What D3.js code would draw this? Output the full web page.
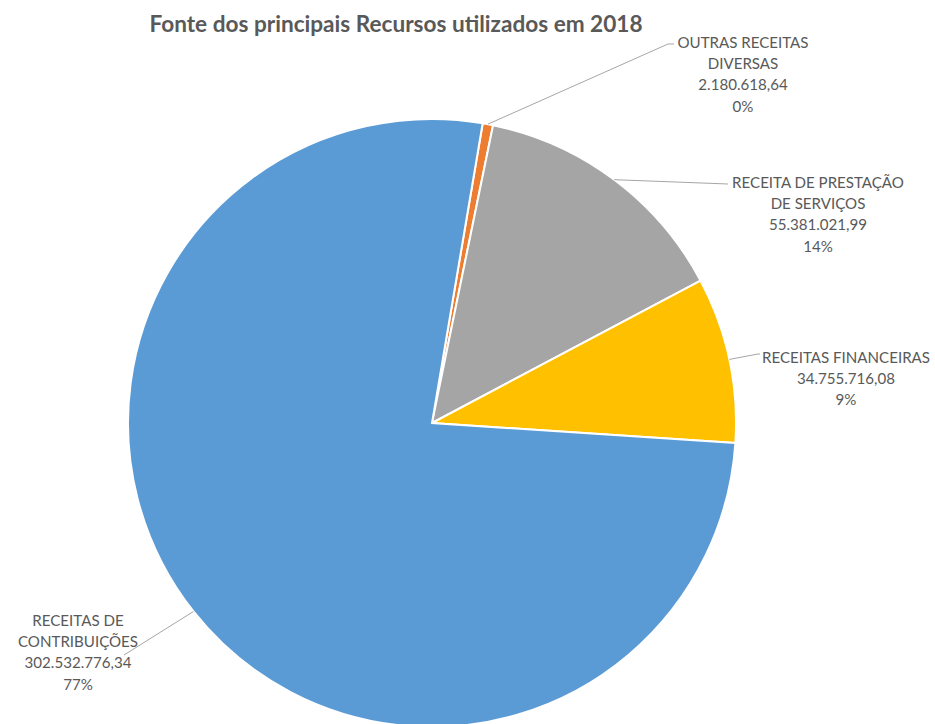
<!DOCTYPE html>
<html>
<head>
<meta charset="utf-8">
<script src="https://cdn.jsdelivr.net/npm/d3@7"></script>
<style>
  html, body { margin: 0; padding: 0; background: #fff; }
  svg { display: block; }
</style>
</head>
<body>
<svg id="chart" width="935" height="724"></svg>
<script>
// ---- data ----
const categories = ["OUTRAS RECEITAS DIVERSAS", "RECEITA DE PRESTAÇÃO DE SERVIÇOS", "RECEITAS FINANCEIRAS", "RECEITAS DE CONTRIBUIÇÕES"];
const labelLines = [
  ["OUTRAS RECEITAS", "DIVERSAS"],
  ["RECEITA DE PRESTAÇÃO", "DE SERVIÇOS"],
  ["RECEITAS FINANCEIRAS"],
  ["RECEITAS DE", "CONTRIBUIÇÕES"]
];
const values = [2180618.64, 55381021.99, 34755716.08, 302532776.34];
const valueLabels = ["2.180.618,64", "55.381.021,99", "34.755.716,08", "302.532.776,34"];
const percentLabels = ["0%", "14%", "9%", "77%"];
const colors = ["#ED7D31", "#A5A5A5", "#FFC000", "#5B9BD5"];
const title = "Fonte dos principais Recursos utilizados em 2018";

// ---- layout ----
const W = 935, H = 724;
const cx = 432, cy = 423, R = 304;
const startDeg = 9.6;
const labelFont = "Lato, 'Open Sans', sans-serif";
// label block: center x, first baseline y, leader line end
const labelLayout = [
  { x: 743, y: 48, lx: 668, ly: 44, hx: 674 },
  { x: 818, y: 188, lx: 728, ly: 184, hx: 728 },
  { x: 846, y: 363, lx: 758, ly: 354, hx: 760 },
  { x: 78,  y: 626, lx: 124, ly: 655, hx: 124 }
];
const lineH = 21.2;

const svg = d3.select("#chart");

svg.append("text")
  .attr("x", 396).attr("y", 32)
  .attr("text-anchor", "middle")
  .attr("font-family", labelFont)
  .attr("font-weight", "bold")
  .attr("font-size", 22.6)
  .attr("fill", "#595959")
  .text(title);

const pie = d3.pie().sort(null).value(d => d)
  .startAngle(startDeg * Math.PI / 180)
  .endAngle(startDeg * Math.PI / 180 + 2 * Math.PI);
const arcs = pie(values);
const arc = d3.arc().innerRadius(0).outerRadius(R);

const g = svg.append("g").attr("transform", `translate(${cx},${cy})`);
g.selectAll("path").data(arcs).join("path")
  .attr("d", arc)
  .attr("fill", (d, i) => colors[i])
  .attr("stroke", "#fff")
  .attr("stroke-width", 2);

// leader lines
arcs.forEach((d, i) => {
  const a = (d.startAngle + d.endAngle) / 2;
  const sx = cx + R * Math.sin(a), sy = cy - R * Math.cos(a);
  const L = labelLayout[i];
  svg.append("polyline")
    .attr("points", `${sx},${sy} ${L.lx},${L.ly} ${L.hx},${L.ly}`)
    .attr("fill", "none")
    .attr("stroke", "#A6A6A6")
    .attr("stroke-width", 1);
});

// labels
labelLayout.forEach((L, i) => {
  const lines = labelLines[i].concat([valueLabels[i], percentLabels[i]]);
  const t = svg.append("text")
    .attr("text-anchor", "middle")
    .attr("font-family", labelFont)
    .attr("font-size", 15.1)
    .attr("fill", "#595959");
  lines.forEach((s, k) => {
    t.append("tspan").attr("x", L.x).attr("y", L.y + k * lineH).text(s);
  });
});
</script>
</body>
</html>
